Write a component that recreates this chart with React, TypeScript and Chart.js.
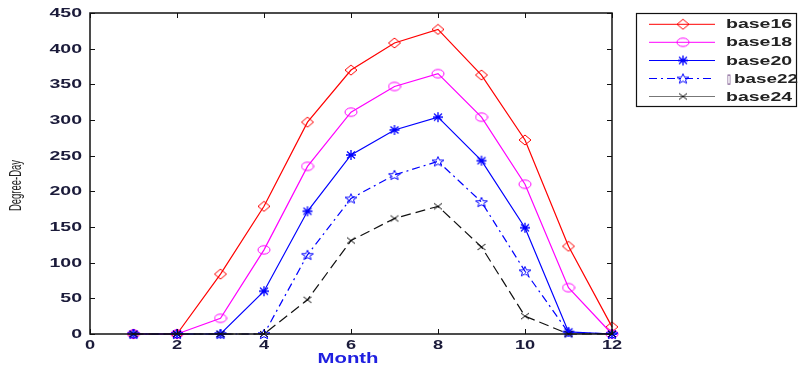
import React, { useEffect, useRef } from "react";
import { Chart, registerables } from "chart.js";

Chart.register(...registerables);

const months = [1, 2, 3, 4, 5, 6, 7, 8, 9, 10, 11, 12];
const seriesNames = ["base16", "base18", "base20", "\u25AFbase22", "base24"];
const base16 = [0, 0, 84, 179, 297, 370, 408, 427, 363, 272, 123, 10];
const base18 = [0, 0, 22, 118, 235, 311, 347, 365, 304, 210, 65, 0];
const base20 = [0, 0, 0, 60, 172, 251, 286, 304, 243, 149, 3, 0];
const base22 = [0, 0, 0, 0, 111, 190, 223, 242, 185, 88, 2, 0];
const base24 = [0, 0, 0, 0, 48, 131, 162, 179, 122, 25, 0, 0];
const xTickLabels = ["0", "2", "4", "6", "8", "10", "12"];
const yTickLabels = ["0", "50", "100", "150", "200", "250", "300", "350", "400", "450"];
const xTitle = "Month";
const yTitle = "Degree-Day";

const FONT = '"Liberation Sans", Arial, sans-serif';

function makeMarker(kind: string, color: string): HTMLCanvasElement {
  const c = document.createElement("canvas");
  const w = 14, h = 12;
  c.width = w; c.height = h;
  const ctx = c.getContext("2d")!;
  ctx.strokeStyle = color;
  ctx.lineWidth = 1;
  const cx = w / 2, cy = h / 2;
  ctx.beginPath();
  if (kind === "diamond") {
    ctx.moveTo(cx, cy - 5);
    ctx.lineTo(cx + 6, cy);
    ctx.lineTo(cx, cy + 5);
    ctx.lineTo(cx - 6, cy);
    ctx.closePath();
  } else if (kind === "circle") {
    ctx.ellipse(cx, cy, 6, 4.2, 0, 0, Math.PI * 2);
  } else if (kind === "pentagram") {
    for (let i = 0; i < 10; i++) {
      const r = i % 2 === 0 ? 5.2 : 2.2;
      const a = -Math.PI / 2 + (i * Math.PI) / 5;
      const px = cx + r * Math.cos(a) * 1.2;
      const py = cy + 0.5 + r * Math.sin(a);
      if (i === 0) ctx.moveTo(px, py); else ctx.lineTo(px, py);
    }
    ctx.closePath();
  } else if (kind === "asterisk") {
    ctx.lineWidth = 1.3;
    ctx.moveTo(cx - 5, cy); ctx.lineTo(cx + 5, cy);
    ctx.moveTo(cx, cy - 5); ctx.lineTo(cx, cy + 5);
    ctx.moveTo(cx - 4, cy - 3.5); ctx.lineTo(cx + 4, cy + 3.5);
    ctx.moveTo(cx + 4, cy - 3.5); ctx.lineTo(cx - 4, cy + 3.5);
  } else if (kind === "x") {
    ctx.moveTo(cx - 4, cy - 3); ctx.lineTo(cx + 4, cy + 3);
    ctx.moveTo(cx + 4, cy - 3); ctx.lineTo(cx - 4, cy + 3);
  }
  ctx.stroke();
  return c;
}

function stretchText(ctx: CanvasRenderingContext2D, text: string, x: number, y: number, align: CanvasTextAlign, sx: number) {
  ctx.save();
  ctx.translate(x, y);
  ctx.scale(sx, 1);
  ctx.textAlign = align;
  ctx.fillText(text, 0, 0);
  ctx.restore();
}

export default function App() {
  const ref = useRef<HTMLCanvasElement>(null);
  useEffect(() => {
    const colors = ["#ff0000", "#ff00ff", "#0000ff", "#0000ff", "#111111"];
    const kinds = ["diamond", "circle", "asterisk", "pentagram", "x"];
    const dashes = [[], [], [], [8, 4, 2, 4], [10, 5]];
    const values = [base16, base18, base20, base22, base24];
    const markers = kinds.map((k, i) => makeMarker(k, colors[i]));

    const framePlugin = {
      id: "frame",
      afterDatasetsDraw(chart: any) {
        const { ctx, chartArea } = chart;
        const xs = chart.scales.x, ys = chart.scales.y;
        const { left, right, top, bottom } = chartArea;
        ctx.save();
        ctx.strokeStyle = "#111";
        ctx.lineWidth = 1.5;
        ctx.strokeRect(left, top, right - left, bottom - top);
        ctx.lineWidth = 1;
        const tl = 5;
        ctx.beginPath();
        xTickLabels.forEach((t) => {
          const px = Math.round(xs.getPixelForValue(Number(t))) + 0.5;
          ctx.moveTo(px, bottom); ctx.lineTo(px, bottom - tl);
          ctx.moveTo(px, top); ctx.lineTo(px, top + tl);
        });
        yTickLabels.forEach((t) => {
          const py = Math.round(ys.getPixelForValue(Number(t))) + 0.5;
          ctx.moveTo(left, py); ctx.lineTo(left + tl, py);
          ctx.moveTo(right, py); ctx.lineTo(right - tl, py);
        });
        ctx.stroke();

        // tick labels
        ctx.fillStyle = "#1b1b3a";
        ctx.textBaseline = "middle";
        ctx.font = `bold 13px ${FONT}`;
        yTickLabels.forEach((t) => {
          const py = ys.getPixelForValue(Number(t));
          stretchText(ctx, t, left - 8, py + 0.5, "right", 1.5);
        });
        xTickLabels.forEach((t) => {
          const px = xs.getPixelForValue(Number(t));
          stretchText(ctx, t, px, bottom + 11, "center", 1.4);
        });

        // axis titles
        ctx.fillStyle = "#2020e0";
        ctx.font = `bold 14px ${FONT}`;
        stretchText(ctx, xTitle, (left + right) / 2 - 3, bottom + 25, "center", 1.45);

        ctx.save();
        ctx.fillStyle = "#222";
        ctx.translate(17, (top + bottom) / 2 + 12);
        ctx.rotate(-Math.PI / 2);
        ctx.scale(0.95, 1.6);
        ctx.font = `10px ${FONT}`;
        ctx.textAlign = "center";
        ctx.textBaseline = "middle";
        ctx.fillText(yTitle, 0, 0);
        ctx.restore();

        // legend
        const lx = 636, ly = 13, lw = 160, lh = 93;
        ctx.fillStyle = "#fff";
        ctx.fillRect(lx, ly, lw, lh);
        ctx.strokeStyle = "#111";
        ctx.lineWidth = 1.2;
        ctx.strokeRect(lx + 0.5, ly + 0.5, lw, lh);
        const rows = [24.3, 42.3, 60.5, 78.5, 96.5];
        seriesNames.forEach((name, i) => {
          const y = rows[i];
          ctx.save();
          ctx.strokeStyle = i === 4 ? "#777" : colors[i];
          ctx.lineWidth = 1;
          ctx.setLineDash(i === 4 ? [] : dashes[i]);
          ctx.beginPath();
          ctx.moveTo(649, y); ctx.lineTo(715, y);
          ctx.stroke();
          ctx.restore();
          const m = markers[i];
          ctx.drawImage(m, 683 - m.width / 2, y - m.height / 2);
          ctx.fillStyle = "#222";
          ctx.font = `bold 13px ${FONT}`;
          ctx.textBaseline = "middle";
          if (name.charAt(0) === "\u25AF") {
            ctx.save();
            ctx.translate(727, y + 0.5);
            ctx.scale(0.55, 1);
            ctx.textAlign = "left";
            ctx.fillStyle = "#8a6a9a";
            ctx.fillText(name.charAt(0), 0, 0);
            ctx.restore();
            stretchText(ctx, name.slice(1), 734, y + 0.5, "left", 1.45);
          } else {
            stretchText(ctx, name, 726, y + 0.5, "left", 1.5);
          }
        });
        ctx.restore();
      },
    };

    const chart = new Chart(ref.current!, {
      type: "line",
      data: {
        labels: months,
        datasets: values.map((v, i) => ({
          label: seriesNames[i],
          data: months.map((m, j) => ({ x: m, y: v[j] })),
          borderColor: colors[i],
          backgroundColor: colors[i],
          borderWidth: 1.2,
          borderDash: dashes[i],
          pointStyle: markers[i] as any,
          pointRadius: 5,
          tension: 0,
          fill: false,
          clip: false as any,
          order: 4 - i,
        })),
      },
      options: {
        animation: false,
        responsive: false,
        maintainAspectRatio: false,
        layout: { padding: { top: 13, right: 188, left: 0, bottom: 0 } },
        plugins: { legend: { display: false }, tooltip: { enabled: false } },
        scales: {
          x: {
            type: "linear",
            min: 0,
            max: 12,
            grid: { display: false },
            border: { display: false },
            ticks: { display: false, stepSize: 2 },
            afterFit: (s: any) => { s.height = 35; },
          },
          y: {
            min: 0,
            max: 450,
            grid: { display: false },
            border: { display: false },
            ticks: { display: false, stepSize: 50 },
            afterFit: (s: any) => { s.width = 90; },
          },
        },
      },
      plugins: [framePlugin],
    });
    return () => chart.destroy();
  }, []);

  return (
    <div style={{ position: "absolute", left: 0, top: 0, width: 800, height: 369, background: "#fff" }}>
      <canvas ref={ref} width={800} height={369} style={{ display: "block" }} />
    </div>
  );
}
